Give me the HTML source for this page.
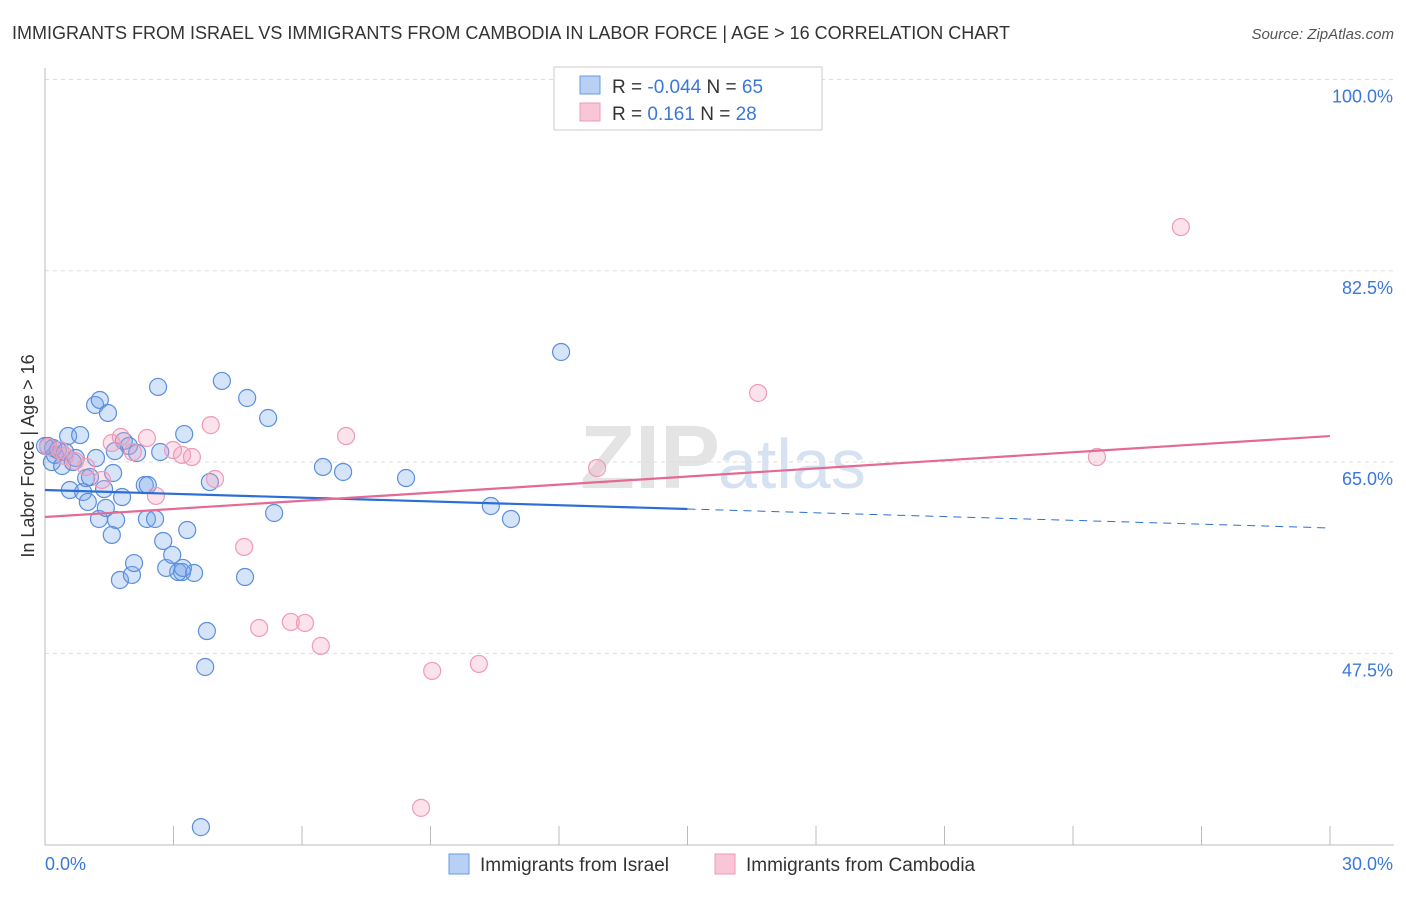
<!DOCTYPE html>
<html><head><meta charset="utf-8"><style>
body{margin:0;background:#fff;font-family:"Liberation Sans",sans-serif}
svg text{font-family:"Liberation Sans",sans-serif}
</style></head><body>
<svg id="c" width="1406" height="892" xmlns="http://www.w3.org/2000/svg">
<text x="12" y="39" font-size="18" fill="#333">IMMIGRANTS FROM ISRAEL VS IMMIGRANTS FROM CAMBODIA IN LABOR FORCE | AGE &gt; 16 CORRELATION CHART</text>
<text x="1394" y="39" font-size="15" fill="#555" font-style="italic" text-anchor="end">Source: ZipAtlas.com</text>
<text x="720" y="488" font-size="90" fill="#e4e4e4" text-anchor="end" font-family="Liberation Serif" font-weight="bold">ZIP</text>
<text x="718" y="488" font-size="70" fill="#d6e2f2">atlas</text>
<g id="grid"></g><g id="axes"></g><g id="pts"></g><g id="trend"></g>
<text transform="translate(34,456) rotate(-90)" font-size="18" fill="#333" text-anchor="middle">In Labor Force | Age &gt; 16</text>
<g>
<rect x="554" y="67" width="268" height="63" fill="#fff" stroke="#ccc"/>
<rect x="580" y="76" width="20" height="18" fill="#b8d0f4" stroke="#6a9ae0"/>
<rect x="580" y="103" width="20" height="18" fill="#f8c6d6" stroke="#ee9ab6"/>
<text x="612" y="93" font-size="19" fill="#333">R = <tspan fill="#3a78d8">-0.044</tspan>   N = <tspan fill="#3a78d8">65</tspan></text>
<text x="612" y="120" font-size="19" fill="#333">R =    <tspan fill="#3a78d8">0.161</tspan>   N = <tspan fill="#3a78d8">28</tspan></text>
</g>
<g>
<rect x="449" y="854" width="20" height="20" fill="#b8d0f4" stroke="#6a9ae0"/>
<text x="480" y="871" font-size="19" fill="#333">Immigrants from Israel</text>
<rect x="715" y="854" width="20" height="20" fill="#f8c6d6" stroke="#ee9ab6"/>
<text x="746" y="871" font-size="19" fill="#333">Immigrants from Cambodia</text>
</g>
</svg>
<script>
const yTicks=[100,82.5,65,47.5];
const yTickLabels=["100.0%","82.5%","65.0%","47.5%"];
const xTickLabels=["0.0%","30.0%"];
const israelX=[0.07,0.16,0.23,0.30,0.40,0.47,0.54,0.58,0.65,0.72,0.82,0.89,0.96,1.00,1.05,1.17,1.19,1.28,1.26,1.38,1.42,1.47,1.56,1.59,1.66,1.75,1.80,1.84,1.96,2.03,2.08,2.15,2.33,2.38,2.40,2.57,2.64,2.69,2.76,2.83,2.97,3.11,3.20,3.25,3.32,3.48,3.78,3.74,3.64,3.85,4.13,4.72,4.67,5.21,5.35,6.49,6.96,8.43,10.41,10.88,12.05,3.22,0.19,0.0,1.63];
const israelY=[66.47,65.0,65.65,66.1,64.64,65.92,67.38,62.44,65.0,65.37,67.47,62.26,63.54,61.35,63.63,70.22,65.37,70.68,59.79,62.53,60.8,69.49,58.33,64.0,59.7,54.21,61.8,66.92,66.47,54.67,55.76,65.83,62.9,59.79,62.9,59.79,71.87,65.92,57.78,55.31,56.5,54.94,54.94,67.56,58.78,54.85,49.54,46.25,31.6,63.17,72.42,70.86,54.48,69.03,60.34,64.55,64.09,63.54,60.98,59.79,75.07,55.31,66.29,66.47,66.0];
const cambodiaX=[0.07,0.35,0.47,0.70,0.96,1.33,1.56,1.77,2.05,2.38,2.59,2.99,3.20,3.43,3.87,3.97,4.65,5.00,5.74,6.07,6.44,7.03,9.04,8.78,10.13,12.89,16.65,24.56,26.52];
const cambodiaY=[66.38,66.1,65.55,65.1,64.55,63.36,66.74,67.29,65.92,67.2,61.9,66.1,65.65,65.46,68.38,63.45,57.23,49.82,50.37,50.28,48.18,67.38,45.89,33.36,46.53,64.45,71.32,65.46,86.5];
const israelTrend=[62.44,58.97];
const cambodiaTrend=[59.97,67.38];
const NS="http://www.w3.org/2000/svg";
const X=v=>45+v*42.83, Y=v=>79.5+(100-v)*10.93;
function mk(t,a,p){const e=document.createElementNS(NS,t);for(const k in a)e.setAttribute(k,a[k]);p.appendChild(e);return e;}
const g=document.getElementById('grid'),ax=document.getElementById('axes');
yTicks.forEach((v,i)=>{
 const l=mk('line',{x1:45,x2:1394,y1:Y(v),y2:Y(v),stroke:'#ddd','stroke-dasharray':'4,4'},g);
 
 
 const t=mk('text',{x:1393,y:Y(v)+23,'font-size':18,fill:'#3a78d8','text-anchor':'end'},g);t.textContent=yTickLabels[i];
 
 
});
mk('line',{x1:45,x2:45,y1:68,y2:845,stroke:'#bbb'},ax);
mk('line',{x1:45,x2:1394,y1:845,y2:845,stroke:'#bbb'},ax);
for(let i=0;i<=10;i++){const x=45+i*128.5;const t=mk('line',{x1:x,x2:x,y1:826,y2:845,stroke:'#bbb'},ax);
 
 }
const xl0=mk('text',{x:45,y:870,'font-size':18,fill:'#3a78d8'},ax);xl0.textContent=xTickLabels[0];


const xl1=mk('text',{x:1393,y:870,'font-size':18,fill:'#3a78d8','text-anchor':'end'},ax);xl1.textContent=xTickLabels[1];


const P=document.getElementById('pts');
israelX.forEach((x,i)=>{const c=mk('circle',{cx:X(x),cy:Y(israelY[i]),r:8.5,fill:'rgba(120,165,235,0.3)',stroke:'#5b8fdc','stroke-width':1.2},P);
 
 });
cambodiaX.forEach((x,i)=>{const c=mk('circle',{cx:X(x),cy:Y(cambodiaY[i]),r:8.5,fill:'rgba(245,160,190,0.3)',stroke:'#ef9ab6','stroke-width':1.2},P);
 
 });
const T=document.getElementById('trend');
const yb=x=>israelTrend[0]+(israelTrend[1]-israelTrend[0])*x/30;
const l1=mk('line',{x1:X(0),y1:Y(yb(0)),x2:X(15),y2:Y(yb(15)),stroke:'#2b6fd6','stroke-width':2.2},T);


const l2=mk('line',{x1:X(15),y1:Y(yb(15)),x2:X(30),y2:Y(yb(30)),stroke:'#2b6fd6','stroke-width':1,'stroke-dasharray':'8,6'},T);


const l3=mk('line',{x1:X(0),y1:Y(cambodiaTrend[0]),x2:X(30),y2:Y(cambodiaTrend[1]),stroke:'#e46a93','stroke-width':2.2},T);


</script>
</body></html>
